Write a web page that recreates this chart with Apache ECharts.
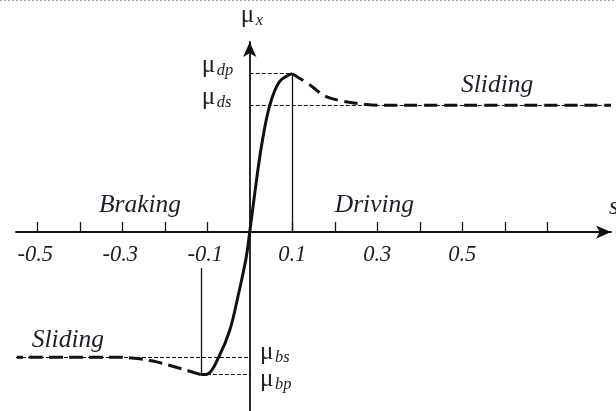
<!DOCTYPE html>
<html>
<head>
<meta charset="utf-8">
<script src="https://cdn.jsdelivr.net/npm/echarts@6/dist/echarts.min.js"></script>
<style>
html,body{margin:0;padding:0;background:#fff;}
#chart{width:616px;height:411px;}
</style>
</head>
<body>
<div id="chart"></div>
<script>
// ---- data (slip s, friction coefficient mu_x normalised to mu_dp = 1) ----
const xTickValues = [-0.5, -0.4, -0.3, -0.2, -0.1, 0.1, 0.2, 0.3, 0.4, 0.5, 0.6, 0.7];
const xTickLabels = [-0.5, -0.3, -0.1, 0.1, 0.3, 0.5];

const muDp = 1.0;   // driving peak
const muDs = 0.80;  // driving sliding
const muBs = -0.79; // braking sliding
const muBp = -0.90; // braking peak
const sDrivePeak = 0.1;
const sBrakePeak = -0.115;
const sBrakeLineTop = -0.227;

// stable (solid) branch
const stableS  = [-0.115, -0.098, -0.073, -0.047, -0.028, -0.009, 0, 0.012, 0.028, 0.047, 0.070, 0.1];
const stableMu = [-0.90, -0.895, -0.79, -0.62, -0.41, -0.17, 0, 0.25, 0.55, 0.80, 0.95, 1.0];

// driving sliding (dashed) branch
const driveS  = [0.1, 0.141, 0.176, 0.212, 0.259, 0.306, 0.85];
const driveMu = [1.0, 0.93, 0.86, 0.83, 0.81, 0.80, 0.80];

// braking sliding (dashed) branch
const brakeS  = [-0.115, -0.165, -0.219, -0.259, -0.313, -0.40, -0.548];
const brakeMu = [-0.90, -0.86, -0.82, -0.80, -0.79, -0.79, -0.79];

// text annotations: anchor = left / vertical centre, in data coordinates
const annTexts = ['Sliding', 'Braking', 'Driving', 'Sliding', 's'];
const annS  = [0.497, -0.355, 0.200, -0.513, 0.845];
const annMu = [0.928, 0.170, 0.170, -0.682, 0.158];

// mu labels with subscripts
const muSubs = ['dp', 'ds', 'bs', 'bp', 'x'];
const muS    = [-0.113, -0.113, 0.024, 0.024, -0.021];
const muMu   = [1.054, 0.852, -0.758, -0.928, 1.37];

const zip = (a, b) => a.map((v, i) => [v, b[i]]);

const chart = echarts.init(document.getElementById('chart'));
const ink = '#111';
const txt = '#1e1e28';

const refLine = {type: [4, 2], width: 1.1, color: ink};
const solidThin = {type: 'solid', width: 1.3, color: ink};

chart.setOption({
  animation: false,
  backgroundColor: '#fff',
  grid: {left: 16, right: 5, top: 42, bottom: 0, containLabel: false, outerBoundsMode: 'none'},
  xAxis: {
    type: 'value', min: -0.55, max: 0.85,
    axisLine: {onZero: true, symbol: ['none', 'arrow'], symbolSize: [10, 15],
               lineStyle: {color: ink, width: 1.8}},
    axisTick: {show: true, inside: true, length: 10, customValues: xTickValues,
               lineStyle: {color: ink, width: 1.3}},
    axisLabel: {show: false},
    splitLine: {show: false}
  },
  yAxis: {
    type: 'value', min: -1.13, max: 1.2,
    axisLine: {onZero: true, symbol: ['none', 'arrow'], symbolSize: [10, 15],
               lineStyle: {color: ink, width: 1.8}},
    axisTick: {show: false}, axisLabel: {show: false}, splitLine: {show: false}
  },
  series: [
    {
      type: 'line', data: zip(stableS, stableMu), smooth: 0.35, symbol: 'none', silent: true,
      lineStyle: {color: ink, width: 3}, z: 5,
      markLine: {
        silent: true, symbol: 'none', label: {show: false},
        data: [
          [{coord: [0, muDp], lineStyle: refLine}, {coord: [sDrivePeak, muDp]}],
          [{coord: [0, muDs], lineStyle: refLine}, {coord: [0.85, muDs]}],
          [{coord: [-0.55, muBs], lineStyle: refLine}, {coord: [0, muBs]}],
          [{coord: [sBrakePeak, muBp], lineStyle: refLine}, {coord: [0, muBp]}],
          [{coord: [sDrivePeak, muDp], lineStyle: solidThin}, {coord: [sDrivePeak, 0]}],
          [{coord: [sBrakePeak, muBp], lineStyle: solidThin}, {coord: [sBrakePeak, sBrakeLineTop]}]
        ]
      }
    },
    {
      type: 'line', data: zip(driveS, driveMu), smooth: 0.3, symbol: 'none', silent: true,
      lineStyle: {color: ink, width: 3, type: [13, 7]}, z: 4
    },
    {
      type: 'line', data: zip(brakeS, brakeMu), smooth: 0.3, symbol: 'none', silent: true,
      lineStyle: {color: ink, width: 3, type: [14, 6]}, z: 4
    }
  ]
});

// ---- texts, positioned through the chart's own scales ----
const toPx = (x, y) => chart.convertToPixel({xAxisIndex: 0, yAxisIndex: 0}, [x, y]);
const serifItalic = sz => 'italic ' + sz + 'px "Liberation Serif"';
const serifUpright = sz => sz + 'px "Liberation Serif"';

const g = [{
  type: 'line', shape: {x1: 0, y1: 0.5, x2: 616, y2: 0.5},
  style: {stroke: '#aaa', lineWidth: 1, lineDash: [2, 2]}
}];

xTickLabels.forEach(v => {
  const p = toPx(v, 0);
  g.push({type: 'text', x: p[0] + (v < 0 ? -2 : 0), y: p[1] + 23, z: 10,
    style: {text: String(v), font: serifItalic(22.5), fill: txt, align: 'center', verticalAlign: 'middle'}});
});

annTexts.forEach((t, i) => {
  const p = toPx(annS[i], annMu[i]);
  g.push({type: 'text', x: p[0], y: p[1], z: 10,
    style: {text: t, font: serifItalic(25.5), fill: txt, align: 'left', verticalAlign: 'middle'}});
});

muSubs.forEach((t, i) => {
  const p = toPx(muS[i], muMu[i]);
  g.push({type: 'text', x: p[0], y: p[1], z: 10,
    style: {text: 'μ', font: serifUpright(25), fill: txt, align: 'left', verticalAlign: 'middle'}});
  g.push({type: 'text', x: p[0] + 15, y: p[1] + 6, z: 10,
    style: {text: t, font: serifItalic(16.5), fill: txt, align: 'left', verticalAlign: 'middle'}});
});

chart.setOption({graphic: g});
</script>
</body>
</html>
